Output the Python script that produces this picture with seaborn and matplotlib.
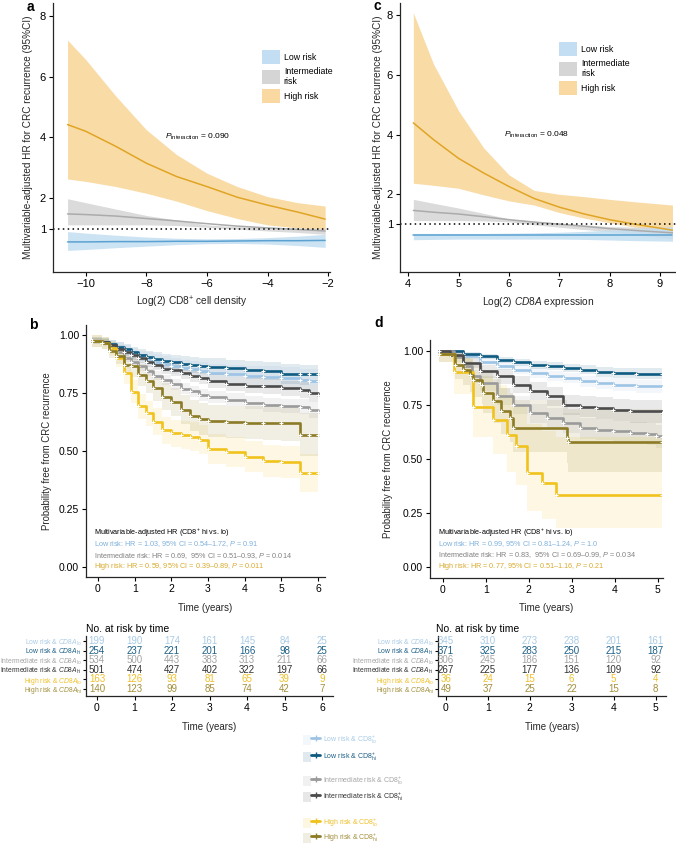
import numpy as np
import pandas as pd
import matplotlib
matplotlib.use('Agg')
import matplotlib.pyplot as plt
import seaborn as sns
from matplotlib.patches import Patch
from matplotlib.lines import Line2D
from matplotlib.legend_handler import HandlerTuple

# ---------------- data: panel a (HR vs log2 CD8+ density) ----------------
a_x = [-10.6, -10, -9, -8, -7, -6, -5, -4, -3, -2.1]
a_high = [4.42, 4.2, 3.7, 3.15, 2.71, 2.38, 2.03, 1.77, 1.54, 1.31]
a_high_lo = [2.63, 2.55, 2.38, 2.16, 1.90, 1.59, 1.33, 1.12, 1.02, 0.97]
a_high_hi = [7.2, 6.56, 5.35, 4.25, 3.43, 2.82, 2.38, 2.05, 1.85, 1.74]
a_int = [1.48, 1.46, 1.41, 1.33, 1.25, 1.16, 1.08, 1.02, 0.97, 0.92]
a_int_lo = [1.12, 1.12, 1.12, 1.12, 1.10, 1.04, 0.98, 0.92, 0.87, 0.81]
a_int_hi = [1.98, 1.85, 1.64, 1.43, 1.28, 1.12, 1.06, 1.03, 1.01, 1.0]
a_low = [0.56, 0.56, 0.57, 0.57, 0.58, 0.58, 0.59, 0.60, 0.60, 0.61]
a_low_lo = [0.28, 0.31, 0.37, 0.42, 0.47, 0.50, 0.51, 0.49, 0.44, 0.38]
a_low_hi = [0.90, 0.85, 0.78, 0.72, 0.68, 0.66, 0.67, 0.70, 0.75, 0.81]

# ---------------- data: panel c (HR vs log2 CD8A expression) ----------------
c_x = [4.1, 4.5, 5, 5.5, 6, 6.5, 7, 7.5, 8, 8.5, 9.25]
c_high = [4.39, 3.83, 3.2, 2.71, 2.26, 1.86, 1.57, 1.34, 1.15, 1.0, 0.8]
c_high_lo = [2.37, 2.3, 2.2, 1.98, 1.78, 1.64, 1.39, 1.2, 1.05, 0.9, 0.75]
c_high_hi = [8.07, 6.36, 4.79, 3.55, 2.65, 2.13, 2.0, 1.92, 1.83, 1.75, 1.64]
c_int = [1.46, 1.40, 1.34, 1.25, 1.15, 1.07, 1.0, 0.93, 0.85, 0.79, 0.71]
c_int_lo = [1.12, 1.12, 1.12, 1.11, 1.08, 0.98, 0.9, 0.82, 0.75, 0.65, 0.51]
c_int_hi = [1.83, 1.70, 1.54, 1.36, 1.18, 1.10, 1.04, 0.98, 0.92, 0.9, 0.92]
c_low = [0.63, 0.63, 0.63, 0.63, 0.63, 0.63, 0.63, 0.63, 0.63, 0.63, 0.63]
c_low_lo = [0.48, 0.49, 0.50, 0.50, 0.50, 0.50, 0.50, 0.49, 0.47, 0.45, 0.43]
c_low_hi = [0.69, 0.69, 0.69, 0.69, 0.70, 0.71, 0.73, 0.76, 0.80, 0.84, 0.90]

# ---------------- data: panel b (KM, CD8+ density) ----------------
b_t = [-0.17, 0.1, 0.3, 0.5, 0.7, 0.9, 1.1, 1.3, 1.5, 1.75, 2.0, 2.25, 2.5, 2.75, 3.0, 3.5, 4.0, 4.5, 5.0, 5.5, 5.75, 6.0]
b_low_lo = [0.975, 0.97, 0.96, 0.945, 0.93, 0.915, 0.905, 0.895, 0.885, 0.875, 0.865, 0.858, 0.852, 0.846, 0.835, 0.83, 0.825, 0.82, 0.815, 0.805, 0.80, 0.80]
b_low_lo_l = [0.96, 0.952, 0.94, 0.92, 0.905, 0.888, 0.876, 0.865, 0.853, 0.842, 0.83, 0.822, 0.815, 0.808, 0.795, 0.788, 0.781, 0.774, 0.768, 0.755, 0.748, 0.748]
b_low_lo_u = [0.99, 0.987, 0.98, 0.968, 0.955, 0.942, 0.933, 0.925, 0.917, 0.908, 0.9, 0.894, 0.889, 0.884, 0.875, 0.871, 0.868, 0.865, 0.862, 0.855, 0.852, 0.852]
b_low_hi = [0.975, 0.97, 0.96, 0.95, 0.94, 0.925, 0.915, 0.905, 0.898, 0.89, 0.885, 0.877, 0.872, 0.868, 0.864, 0.856, 0.851, 0.846, 0.832, 0.83, 0.83, 0.83]
b_low_hi_l = [0.96, 0.955, 0.94, 0.93, 0.915, 0.9, 0.89, 0.875, 0.868, 0.858, 0.852, 0.843, 0.837, 0.832, 0.827, 0.818, 0.812, 0.806, 0.79, 0.785, 0.785, 0.785]
b_low_hi_u = [0.99, 0.985, 0.978, 0.97, 0.962, 0.95, 0.94, 0.932, 0.926, 0.92, 0.915, 0.909, 0.905, 0.902, 0.899, 0.893, 0.889, 0.885, 0.873, 0.872, 0.872, 0.872]
b_int_lo = [0.975, 0.965, 0.945, 0.925, 0.90, 0.885, 0.865, 0.845, 0.825, 0.805, 0.787, 0.768, 0.757, 0.742, 0.733, 0.72, 0.708, 0.697, 0.694, 0.69, 0.677, 0.667]
b_int_lo_l = [0.965, 0.953, 0.932, 0.91, 0.884, 0.867, 0.846, 0.825, 0.804, 0.783, 0.764, 0.744, 0.732, 0.716, 0.706, 0.692, 0.679, 0.667, 0.663, 0.658, 0.643, 0.632]
b_int_lo_u = [0.985, 0.977, 0.958, 0.94, 0.916, 0.903, 0.884, 0.865, 0.846, 0.827, 0.81, 0.792, 0.782, 0.768, 0.76, 0.748, 0.737, 0.727, 0.725, 0.722, 0.711, 0.702]
b_int_hi = [0.975, 0.97, 0.955, 0.94, 0.925, 0.912, 0.90, 0.885, 0.872, 0.855, 0.848, 0.838, 0.825, 0.815, 0.802, 0.79, 0.782, 0.778, 0.77, 0.763, 0.748, 0.74]
b_int_hi_l = [0.965, 0.958, 0.942, 0.925, 0.908, 0.893, 0.88, 0.863, 0.849, 0.831, 0.823, 0.812, 0.798, 0.787, 0.773, 0.76, 0.751, 0.746, 0.737, 0.728, 0.71, 0.70]
b_int_hi_u = [0.985, 0.982, 0.968, 0.955, 0.942, 0.931, 0.92, 0.907, 0.895, 0.879, 0.873, 0.864, 0.852, 0.843, 0.831, 0.82, 0.813, 0.81, 0.803, 0.798, 0.786, 0.78]
b_high_lo = [0.975, 0.965, 0.945, 0.90, 0.835, 0.756, 0.693, 0.662, 0.627, 0.59, 0.576, 0.568, 0.562, 0.548, 0.51, 0.495, 0.475, 0.457, 0.452, 0.405, 0.405, 0.405]
b_high_lo_l = [0.95, 0.94, 0.915, 0.86, 0.79, 0.705, 0.64, 0.607, 0.57, 0.532, 0.517, 0.508, 0.501, 0.486, 0.446, 0.43, 0.408, 0.389, 0.383, 0.325, 0.325, 0.325]
b_high_lo_u = [1.0, 0.99, 0.975, 0.94, 0.88, 0.805, 0.746, 0.717, 0.684, 0.648, 0.635, 0.628, 0.623, 0.61, 0.574, 0.56, 0.542, 0.525, 0.521, 0.485, 0.485, 0.485]
b_high_hi = [0.975, 0.965, 0.93, 0.91, 0.872, 0.865, 0.828, 0.803, 0.77, 0.734, 0.71, 0.677, 0.652, 0.637, 0.629, 0.624, 0.62, 0.62, 0.62, 0.57, 0.57, 0.57]
b_high_hi_l = [0.95, 0.94, 0.9, 0.875, 0.83, 0.82, 0.78, 0.75, 0.715, 0.675, 0.65, 0.615, 0.587, 0.57, 0.56, 0.555, 0.55, 0.548, 0.545, 0.48, 0.48, 0.48]
b_high_hi_u = [1.0, 0.99, 0.96, 0.945, 0.915, 0.91, 0.875, 0.855, 0.825, 0.795, 0.772, 0.742, 0.72, 0.706, 0.7, 0.695, 0.692, 0.692, 0.692, 0.665, 0.665, 0.665]

# ---------------- data: panel d (KM, CD8A expression) ----------------
d_low_t = [-0.1, 0.47, 0.86, 1.25, 1.64, 2.02, 2.41, 2.8, 3.19, 3.57, 3.96, 4.5, 5.09]
d_low_lo = [1.0, 0.974, 0.95, 0.928, 0.912, 0.897, 0.884, 0.874, 0.858, 0.85, 0.843, 0.835, 0.83]
d_low_lo_l = [1.0, 0.962, 0.934, 0.909, 0.891, 0.874, 0.86, 0.849, 0.831, 0.822, 0.814, 0.805, 0.80]
d_low_lo_u = [1.0, 0.986, 0.966, 0.947, 0.933, 0.92, 0.908, 0.899, 0.885, 0.878, 0.872, 0.865, 0.86]
d_low_hi = [1.0, 0.985, 0.974, 0.958, 0.946, 0.935, 0.928, 0.92, 0.912, 0.902, 0.897, 0.893, 0.892]
d_low_hi_l = [1.0, 0.975, 0.962, 0.944, 0.93, 0.918, 0.909, 0.9, 0.891, 0.88, 0.874, 0.868, 0.866]
d_low_hi_u = [1.0, 0.993, 0.985, 0.972, 0.962, 0.952, 0.947, 0.94, 0.933, 0.925, 0.921, 0.919, 0.918]
d_int_hi_t = [-0.1, 0.16, 0.47, 0.86, 1.25, 1.64, 2.02, 2.41, 2.8, 3.19, 3.57, 3.96, 4.35, 5.09]
d_int_hi = [1.0, 0.98, 0.943, 0.905, 0.882, 0.843, 0.812, 0.789, 0.75, 0.742, 0.735, 0.727, 0.719, 0.714]
d_int_hi_l = [1.0, 0.965, 0.92, 0.875, 0.848, 0.805, 0.77, 0.745, 0.703, 0.694, 0.685, 0.676, 0.667, 0.66]
d_int_hi_u = [1.0, 0.995, 0.966, 0.935, 0.916, 0.881, 0.854, 0.833, 0.797, 0.79, 0.785, 0.778, 0.771, 0.768]
d_int_lo_t = [-0.1, 0.25, 0.47, 0.67, 0.86, 1.25, 1.64, 2.02, 2.41, 2.8, 3.19, 3.57, 3.96, 4.35, 4.74, 4.95, 5.09]
d_int_lo = [1.0, 0.97, 0.928, 0.882, 0.851, 0.789, 0.75, 0.712, 0.689, 0.665, 0.642, 0.635, 0.627, 0.619, 0.615, 0.604, 0.601]
d_int_lo_l = [1.0, 0.95, 0.9, 0.85, 0.815, 0.75, 0.708, 0.668, 0.643, 0.618, 0.593, 0.585, 0.576, 0.567, 0.562, 0.55, 0.547]
d_int_lo_u = [1.0, 0.99, 0.955, 0.912, 0.885, 0.827, 0.79, 0.755, 0.733, 0.711, 0.69, 0.684, 0.677, 0.67, 0.667, 0.657, 0.655]
d_high_hi_t = [-0.1, 0.28, 0.47, 0.63, 0.71, 0.9, 0.94, 1.16, 1.36, 1.56, 1.64, 2.88, 2.91, 5.09]
d_high_hi = [0.985, 0.935, 0.912, 0.889, 0.866, 0.843, 0.805, 0.767, 0.72, 0.689, 0.643, 0.597, 0.58, 0.58]
d_high_hi_l = [0.95, 0.87, 0.84, 0.81, 0.785, 0.755, 0.71, 0.665, 0.615, 0.58, 0.53, 0.48, 0.44, 0.44]
d_high_hi_u = [1.0, 0.99, 0.975, 0.96, 0.945, 0.93, 0.9, 0.87, 0.83, 0.805, 0.77, 0.74, 0.73, 0.73]
d_high_lo_t = [-0.1, 0.26, 0.69, 1.16, 1.5, 1.7, 1.96, 2.3, 2.64, 5.09]
d_high_lo = [0.985, 0.904, 0.742, 0.681, 0.611, 0.557, 0.434, 0.388, 0.334, 0.334]
d_high_lo_l = [0.95, 0.8, 0.6, 0.52, 0.44, 0.38, 0.26, 0.22, 0.18, 0.18]
d_high_lo_u = [1.0, 0.97, 0.88, 0.84, 0.79, 0.75, 0.66, 0.63, 0.6, 0.6]

# ---------------- data: numbers at risk ----------------
groups = ['low_lo', 'low_hi', 'int_lo', 'int_hi', 'high_lo', 'high_hi']
b_years = [0, 1, 2, 3, 4, 5, 6]
b_risk = {
    'low_lo': [199, 190, 174, 161, 145, 84, 25],
    'low_hi': [254, 237, 221, 201, 166, 98, 25],
    'int_lo': [534, 500, 443, 383, 313, 211, 66],
    'int_hi': [501, 474, 427, 402, 322, 197, 66],
    'high_lo': [163, 126, 93, 81, 65, 39, 9],
    'high_hi': [140, 123, 99, 85, 74, 42, 7],
}
d_years = [0, 1, 2, 3, 4, 5]
d_risk = {
    'low_lo': [345, 310, 273, 238, 201, 161],
    'low_hi': [371, 325, 283, 250, 215, 187],
    'int_lo': [306, 245, 186, 151, 120, 92],
    'int_hi': [267, 225, 177, 136, 109, 92],
    'high_lo': [36, 24, 15, 6, 5, 4],
    'high_hi': [49, 37, 25, 22, 15, 8],
}
row_labels = [r'Low risk & $\mathit{CD8A}_{\mathrm{lo}}$', r'Low risk & $\mathit{CD8A}_{\mathrm{hi}}$',
              r'Intermediate risk & $\mathit{CD8A}_{\mathrm{lo}}$', r'Intermediate risk & $\mathit{CD8A}_{\mathrm{hi}}$',
              r'High risk & $\mathit{CD8A}_{\mathrm{lo}}$', r'High risk & $\mathit{CD8A}_{\mathrm{hi}}$']
legend_labels = [r'Low risk & CD8$^{+}_{\mathrm{lo}}$', r'Low risk & CD8$^{+}_{\mathrm{hi}}$',
                 r'Intermediate risk & CD8$^{+}_{\mathrm{lo}}$', r'Intermediate risk & CD8$^{+}_{\mathrm{hi}}$',
                 r'High risk & CD8$^{+}_{\mathrm{lo}}$', r'High risk & CD8$^{+}_{\mathrm{hi}}$']

km_cols = {'low_lo': '#9dc4e4', 'low_hi': '#0e5a80', 'int_lo': '#9a9a9a',
           'int_hi': '#4b4b4b', 'high_lo': '#f0c21c', 'high_hi': '#8c7b26'}
txt_cols = {'low_lo': '#a9cbe6', 'low_hi': '#1b5f85', 'int_lo': '#a5a5a5',
            'int_hi': '#333333', 'high_lo': '#efc02a', 'high_hi': '#a38f3c'}
hr_line = {'Low risk': '#5ba2d2', 'Intermediate risk': '#ababab', 'High risk': '#e0a524'}
hr_band = {'Low risk': '#c3def2', 'Intermediate risk': '#d5d5d5', 'High risk': '#f9d9a1'}

# ---------------- style ----------------
sns.set_style('ticks')
plt.rcParams['font.family'] = ['Liberation Sans', 'DejaVu Sans']
plt.rcParams['mathtext.fontset'] = 'custom'
plt.rcParams['mathtext.rm'] = 'Liberation Sans'
plt.rcParams['mathtext.it'] = 'Liberation Sans:italic'
plt.rcParams['mathtext.bf'] = 'Liberation Sans:bold'
plt.rcParams['axes.linewidth'] = 0.9
plt.rcParams['text.color'] = 'black'

W, H = 676, 846
fig = plt.figure(figsize=(W / 100, H / 100), dpi=100)


def add_ax(l, t, r, b):
    return fig.add_axes([l / W, 1 - b / H, (r - l) / W, (b - t) / H])


def style_ax(ax, size):
    sns.despine(ax=ax)
    ax.tick_params(length=3, width=0.8, labelsize=size, colors='black', pad=2)


# ---------------- HR panels ----------------
def hr_panel(ax, x, curves, ptext, pxy):
    for name in ['High risk', 'Intermediate risk', 'Low risk']:
        mid, lo, hi = curves[name]
        ax.fill_between(x, lo, hi, color=hr_band[name], lw=0,
                        alpha=0.95 if name == 'High risk' else 0.85)
    rows = []
    for name, (mid, lo, hi) in curves.items():
        rows += [(xi, yi, name) for xi, yi in zip(x, mid)]
    df = pd.DataFrame(rows, columns=['x', 'hr', 'risk'])
    sns.lineplot(data=df, x='x', y='hr', hue='risk', palette=hr_line,
                 estimator=None, legend=False, lw=1.1, ax=ax)
    ax.axhline(1, color='black', ls=(0, (1, 2.2)), lw=1.1)
    ax.set_yticks([1, 2, 4, 6, 8])
    ax.text(pxy[0], pxy[1], ptext, fontsize=6, ha='center', va='center')
    style_ax(ax, 8)


ax_a = add_ax(53, 3, 330, 272)
hr_panel(ax_a, a_x, {'Low risk': (a_low, a_low_lo, a_low_hi),
                     'Intermediate risk': (a_int, a_int_lo, a_int_hi),
                     'High risk': (a_high, a_high_lo, a_high_hi)},
         r'$P_{\mathrm{interaction}}$ = 0.090', (-6.3, 4.02))
ax_a.set_xlim(-11.08, -1.94)
ax_a.set_ylim(-0.43, 8.42)
ax_a.set_xticks([-10, -8, -6, -4, -2])
ax_a.set_xticklabels(['\u221210', '\u22128', '\u22126', '\u22124', '\u22122'])
ax_a.set_xlabel(r'Log(2) CD8$^{+}$ cell density', fontsize=7.3)
ax_a.set_ylabel('Multivariable-adjusted HR for CRC recurrence (95%CI)', fontsize=7.2)
ax_a.xaxis.set_label_coords(0.5, -0.085)
ax_a.yaxis.set_label_coords(-0.072, 0.5)

ax_c = add_ax(400, 3, 676, 272)
hr_panel(ax_c, c_x, {'Low risk': (c_low, c_low_lo, c_low_hi),
                     'Intermediate risk': (c_int, c_int_lo, c_int_hi),
                     'High risk': (c_high, c_high_lo, c_high_hi)},
         r'$P_{\mathrm{interaction}}$ = 0.048', (6.55, 4.0))
ax_c.set_xlim(3.835, 9.32)
ax_c.set_ylim(-0.6, 8.4)
ax_c.set_xticks([4, 5, 6, 7, 8, 9])
ax_c.set_xlabel(r'Log(2) $\mathit{CD8A}$ expression', fontsize=7.3)
ax_c.set_ylabel('Multivariable-adjusted HR for CRC recurrence (95%CI)', fontsize=7.2)
ax_c.xaxis.set_label_coords(0.5, -0.085)
ax_c.yaxis.set_label_coords(-0.062, 0.5)

hr_handles = [Patch(facecolor=hr_band[k], edgecolor='none') for k in hr_band]
for ax, anchor in [(ax_a, (262, 50)), (ax_c, (559, 42))]:
    ax.legend(hr_handles, ['Low risk', 'Intermediate\nrisk', 'High risk'],
              loc='upper left', bbox_to_anchor=(anchor[0] / W, 1 - anchor[1] / H),
              bbox_transform=fig.transFigure, frameon=False, fontsize=6.3,
              handlelength=2.0, handleheight=2.1, handletextpad=0.5,
              labelspacing=0.3, borderpad=0, borderaxespad=0)


# ---------------- KM panels ----------------
def km_panel(ax, series, hr_lines, y0, dy):
    rows = []
    for g, (t, s, lo, hi) in series.items():
        ax.fill_between(t, lo, hi, step='post', color=km_cols[g], alpha=0.12, lw=0)
        rows += [(ti, si, g) for ti, si in zip(t, s)]
    df = pd.DataFrame(rows, columns=['time', 'surv', 'group'])
    sns.lineplot(data=df, x='time', y='surv', hue='group', hue_order=groups,
                 palette=km_cols, estimator=None, legend=False, lw=1.9,
                 drawstyle='steps-post', marker='+', ms=3, mew=0.8, ax=ax)
    ax.set_yticks([0, 0.25, 0.5, 0.75, 1.0])
    ax.set_yticklabels(['0.00', '0.25', '0.50', '0.75', '1.00'])
    ax.set_xlabel('Time (years)', fontsize=7)
    ax.set_ylabel('Probability free from CRC recurrence', fontsize=6.9)
    style_ax(ax, 7.5)
    cols = ['black', '#7eb0dc', '#808080', '#d8a92c']
    for i, (txt, c) in enumerate(zip(hr_lines, cols)):
        ax.text(0.035, y0 - i * dy, txt, color=c, fontsize=5.2,
                transform=ax.transAxes, va='center', ha='left')


ax_b = add_ax(86, 325, 325, 577)
km_panel(ax_b, {'low_lo': (b_t, b_low_lo, b_low_lo_l, b_low_lo_u),
                'low_hi': (b_t, b_low_hi, b_low_hi_l, b_low_hi_u),
                'int_lo': (b_t, b_int_lo, b_int_lo_l, b_int_lo_u),
                'int_hi': (b_t, b_int_hi, b_int_hi_l, b_int_hi_u),
                'high_lo': (b_t, b_high_lo, b_high_lo_l, b_high_lo_u),
                'high_hi': (b_t, b_high_hi, b_high_hi_l, b_high_hi_u)},
         [r'Multivariable-adjusted HR (CD8$^{+}$ hi vs. lo)',
          'Low risk: HR = 1.03, 95% CI = 0.54\u20131.72, $P$ = 0.91',
          'Intermediate risk: HR = 0.69,  95% CI = 0.51\u20130.93, $P$ = 0.014',
          'High risk: HR = 0.59, 95% CI = 0.39\u20130.89, $P$ = 0.011'], 0.175, 0.045)
ax_b.set_xlim(-0.327, 6.19)
ax_b.set_ylim(-0.043, 1.043)
ax_b.set_xticks(b_years)
ax_b.xaxis.set_label_coords(0.5, -0.103)
ax_b.yaxis.set_label_coords(-0.142, 0.5)

ax_d = add_ax(430, 340, 663, 578)
km_panel(ax_d, {'low_lo': (d_low_t, d_low_lo, d_low_lo_l, d_low_lo_u),
                'low_hi': (d_low_t, d_low_hi, d_low_hi_l, d_low_hi_u),
                'int_lo': (d_int_lo_t, d_int_lo, d_int_lo_l, d_int_lo_u),
                'int_hi': (d_int_hi_t, d_int_hi, d_int_hi_l, d_int_hi_u),
                'high_lo': (d_high_lo_t, d_high_lo, d_high_lo_l, d_high_lo_u),
                'high_hi': (d_high_hi_t, d_high_hi, d_high_hi_l, d_high_hi_u)},
         [r'Multivariable-adjusted HR (CD8$^{+}$ hi vs. lo)',
          'Low risk: HR = 0.99, 95% CI = 0.81\u20131.24, $P$ = 1.0',
          'Intermediate risk: HR = 0.83,  95% CI = 0.69\u20130.99, $P$ = 0.034',
          'High risk: HR = 0.77, 95% CI = 0.51\u20131.16, $P$ = 0.21'], 0.189, 0.047)
ax_d.set_xlim(-0.30, 5.12)
ax_d.set_ylim(-0.052, 1.05)
ax_d.set_xticks(d_years)
ax_d.xaxis.set_label_coords(0.5, -0.105)
ax_d.yaxis.set_label_coords(-0.159, 0.5)


# ---------------- risk tables ----------------
def risk_table(ax, years, risk, xlim, title_x):
    ypos = [6, 5, 4, 3, 2, 1]
    for g, y in zip(groups, ypos):
        for yr, n in zip(years, risk[g]):
            ax.text(yr, y, str(n), ha='center', va='center', fontsize=7, color=txt_cols[g])
    ax.set_xlim(*xlim)
    ax.set_ylim(0.24, 6.54)
    ax.set_xticks(years)
    ax.set_yticks(ypos)
    ax.set_yticklabels(row_labels)
    style_ax(ax, 7.5)
    ax.tick_params(axis='y', labelsize=4.9, length=2, pad=1)
    for lab, g in zip(ax.get_yticklabels(), groups):
        lab.set_color(txt_cols[g])
    ax.set_xlabel('Time (years)', fontsize=7)
    ax.xaxis.set_label_coords(0.5, -0.43)
    fig.text(title_x / W, 1 - 629 / H, 'No. at risk by time', fontsize=7.5,
             ha='left', va='center')


ax_bt = add_ax(86, 636, 333, 696)
risk_table(ax_bt, b_years, b_risk, (-0.293, 6.29), 86)
ax_dt = add_ax(438, 636, 666, 696)
risk_table(ax_dt, d_years, d_risk, (-0.19, 5.25), 436)

# ---------------- bottom legend ----------------
leg_y = [740, 757, 781, 797, 823, 838]
for g, lab, y in zip(groups, legend_labels, leg_y):
    h = (Patch(facecolor=km_cols[g], alpha=0.13, edgecolor='none'),
         Line2D([], [], color=km_cols[g], lw=2, marker='+', ms=5, mew=1))
    fig.legend([h], [lab], loc='center left', bbox_to_anchor=(303 / W, 1 - y / H),
               handler_map={tuple: HandlerTuple(ndivide=None)}, frameon=False,
               fontsize=5, labelcolor=txt_cols[g], handlelength=2.4,
               handleheight=1.9, handletextpad=0.5, borderpad=0, borderaxespad=0)

# ---------------- panel letters ----------------
for lab, x, y in [('a', 30, 7), ('c', 377, 6), ('b', 33, 325), ('d', 379, 323)]:
    fig.text(x / W, 1 - y / H, lab, fontsize=10, fontweight='bold', ha='center', va='center')

fig.savefig('out.png', dpi=100)
